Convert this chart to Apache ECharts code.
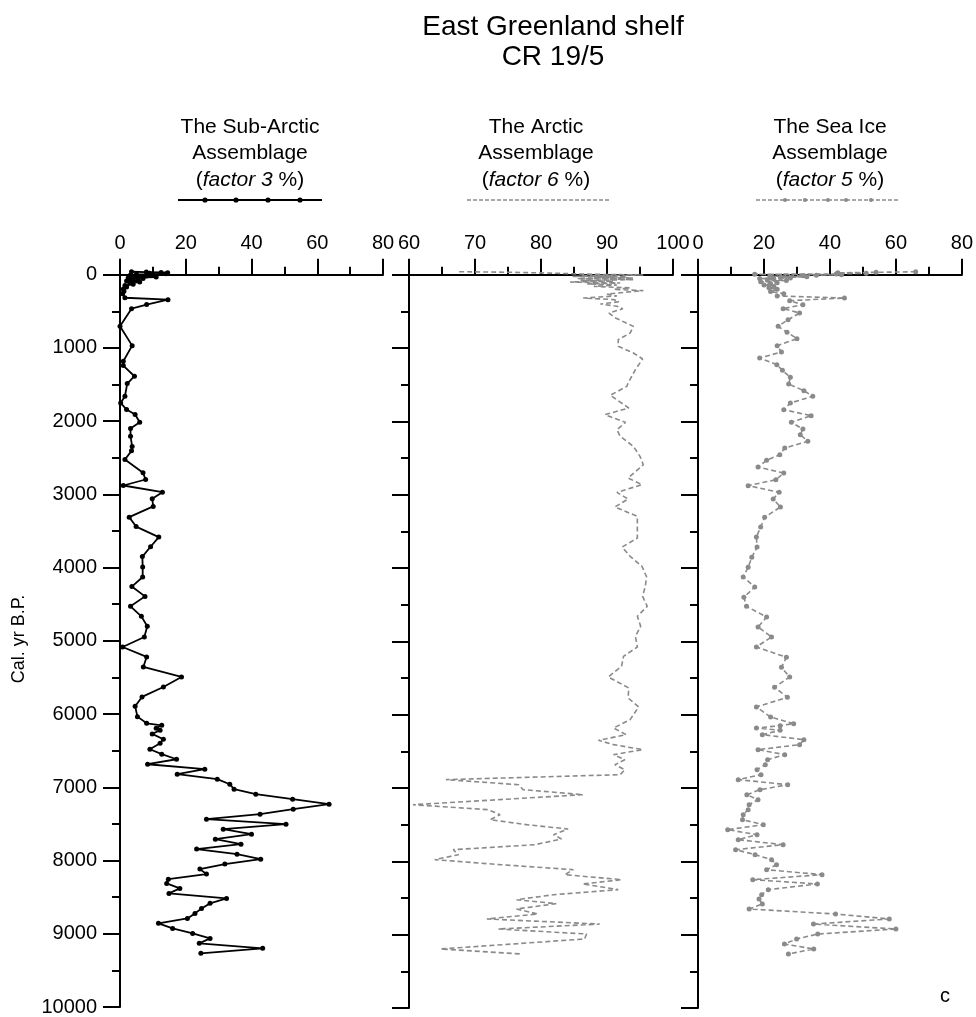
<!DOCTYPE html>
<html lang="en">
<head>
<meta charset="UTF-8">
<title>East Greenland shelf CR 19/5</title>
<script src="https://cdn.jsdelivr.net/npm/echarts@6/dist/echarts.min.js"></script>
<style>
  html, body { margin: 0; padding: 0; background: #fff; }
  #chart { width: 976px; height: 1017px; }
</style>
</head>
<body>
<div id="chart"></div>
<script>
// age axis ticks (cal. yr B.P.)
var ageTicks = [0, 1000, 2000, 3000, 4000, 5000, 6000, 7000, 8000, 9000, 10000];
var ageMinorTicks = [500, 1500, 2500, 3500, 4500, 5500, 6500, 7500, 8500, 9500];

// The Sub-Arctic Assemblage (factor 3 %)
var subArcticAge = [-40, -35, -30, -25, -18, -12, -5, 3, 10, 18, 25, 33, 42, 52, 62, 72, 85, 100, 115, 130,
  148, 168, 195, 225, 260, 315, 341, 409, 464, 705, 969, 1182, 1241, 1387, 1487, 1660, 1751, 1842, 1910, 2015,
  2101, 2206, 2347, 2406, 2524, 2706, 2797, 2879, 2970, 3060, 3165, 3311, 3440, 3583, 3715, 3850, 3993, 4129,
  4259, 4393, 4529, 4666, 4802, 4948, 5084, 5220, 5357, 5493, 5630, 5766, 5894, 6035, 6126, 6153, 6194, 6221,
  6271, 6344, 6398, 6480, 6548, 6617, 6685, 6753, 6821, 6889, 6958, 7026, 7094, 7162, 7231, 7299, 7367, 7435,
  7503, 7572, 7640, 7708, 7776, 7844, 7913, 7981, 8049, 8117, 8185, 8254, 8313, 8381, 8449, 8517, 8585, 8654,
  8722, 8790, 8858, 8927, 8995, 9063, 9131, 9199, 9267];
var subArcticPct = [3.5, 8, 12.5, 14.5, 9, 14, 5, 10, 3, 8, 4, 11, 2.5, 7, 3, 5.5, 2, 6, 3, 4,
  1.5, 2, 1, 1.2, 0.8, 1.5, 14.6, 8.1, 3.5, 0, 3.7, 1, 1, 4.4, 2.2, 1.5, 0.2, 2, 4.6, 6,
  3.2, 3.2, 3.7, 3.5, 1.5, 7, 7.8, 1, 12.9, 9.8, 10.1, 2.8, 4.9, 11.8, 9.3, 6.8, 6.9, 6.9,
  3.6, 7.6, 3.2, 6.5, 8.3, 7.4, 0.8, 8.1, 7.1, 18.7, 13.2, 6.7, 4.6, 5.3, 8.1, 12.7, 11, 12.2,
  9.8, 13.2, 12.2, 9.1, 12.7, 17.2, 8.4, 25.8, 17.4, 29.6, 33.4, 34.7, 41.3, 52.5, 63.6, 52.7, 42.6, 26.3,
  50.5, 31.4, 40, 29, 36.8, 23.3, 35.6, 42.8, 31.9, 24.3, 26.3, 14.7, 14.2, 18.2, 14.9, 32.4, 27.4, 24.8,
  22.8, 20.5, 11.7, 16, 22.1, 27.4, 24.1, 43.4, 24.6];

// The Arctic Assemblage (factor 6 %)
var arcticAge = [-40, -36, -32, -28, -24, -18, -12, -5, 0, 5, 12, 18, 23, 30, 38, 45, 52, 60, 68, 78,
  88, 100, 114, 125, 140, 160, 180, 200, 218, 240, 265, 290, 318, 340, 370, 400, 430, 464, 523, 591,
  705, 796, 886, 977, 1068, 1150, 1295, 1477, 1523, 1645, 1818, 1909, 2014, 2114, 2205, 2341, 2478, 2591,
  2773, 2864, 2969, 3059, 3168, 3296, 3591, 3714, 3841, 3977, 4123, 4250, 4387, 4523, 4659, 4796, 4932,
  5077, 5205, 5341, 5486, 5636, 5773, 5895, 6068, 6182, 6273, 6350, 6409, 6477, 6545, 6614, 6682, 6750,
  6818, 6886, 6955, 7023, 7091, 7228, 7296, 7364, 7432, 7500, 7559, 7637, 7695, 7773, 7841, 7909, 7977,
  8045, 8114, 8182, 8250, 8309, 8386, 8455, 8523, 8577, 8650, 8718, 8786, 8855, 8923, 8991, 9059, 9195, 9264];
var arcticPct = [67.6, 72, 75.8, 78, 80.3, 83, 84.8, 88, 92, 95.5, 86, 91, 84.8, 93, 88, 94, 85.5, 90, 94, 86,
  91, 84.4, 92, 87, 91.5, 88, 93.5, 91, 95.5, 92.7, 90, 91.5, 86.4, 91, 91.8, 89, 91.5, 92.4, 90.3, 91.3,
  94, 93.5, 91.7, 91.7, 94, 95.4, 94.3, 93.2, 93, 90.5, 93.3, 89.7, 92.8, 91.5, 92, 94, 95, 95.5,
  93.2, 95.3, 91.5, 93.2, 91.2, 94.6, 94.6, 92.3, 93.5, 95.3, 96, 95.8, 95.4, 96.1, 94.6, 95.1, 94.3,
  94.6, 92.5, 92.2, 90.2, 93.3, 93.2, 94.8, 93.5, 91, 92.9, 88.7, 91, 95.4, 91, 92.7, 91.2, 92.7,
  92, 65.6, 76.6, 77.3, 86.4, 60.6, 72, 73.8, 72.3, 77.8, 84.1, 81.9, 83.1, 79.1, 66.7, 67.5, 63.9,
  73.8, 84.9, 83.6, 92.2, 86.3, 91.7, 81.9, 76.3, 82.3, 76.3, 79.5, 71.8, 88.9, 73.5, 86.9, 86.6, 64.8, 77.1];

// The Sea Ice Assemblage (factor 5 %)
var seaIceAge = [-40, -32, -25, -18, -10, -5, 0, 8, 15, 23, 30, 38, 45, 52, 60, 68, 80, 95, 110, 125,
  140, 160, 180, 200, 230, 260, 290, 318, 355, 409, 464, 523, 614, 705, 786, 873, 968, 1055, 1136, 1227,
  1305, 1400, 1491, 1582, 1659, 1750, 1841, 1923, 2014, 2105, 2182, 2273, 2364, 2455, 2532, 2623, 2705,
  2796, 2877, 2968, 3059, 3168, 3309, 3441, 3577, 3714, 3855, 3991, 4123, 4259, 4400, 4523, 4668, 4805,
  4941, 5077, 5218, 5355, 5486, 5627, 5764, 5895, 6032, 6123, 6150, 6182, 6214, 6273, 6341, 6409, 6477,
  6545, 6614, 6682, 6750, 6818, 6886, 6955, 7023, 7091, 7159, 7228, 7296, 7364, 7432, 7500, 7568, 7637,
  7705, 7773, 7841, 7909, 7977, 8045, 8114, 8182, 8250, 8309, 8386, 8455, 8514, 8582, 8650, 8718, 8786,
  8855, 8923, 8991, 9059, 9127, 9195, 9264];
var seaIcePct = [66, 54, 42.4, 51, 41.9, 17.2, 43.5, 35.9, 32, 21.8, 33, 25, 28, 18.7, 23, 21, 26.8, 19, 24, 22,
  20, 23, 21.5, 24, 22, 26, 24, 44.4, 27.8, 31.8, 25.8, 30.8, 27.3, 24.3, 27, 30, 24, 25.3, 18.7, 23.9,
  25.6, 28, 27.5, 32.1, 34.8, 28, 26, 34.3, 28.3, 31.8, 31, 33.3, 26.3, 24.8, 20.8, 18.2, 26,
  23.6, 15.2, 24.6, 22.8, 25, 20.2, 19, 17.7, 17.9, 16.3, 15.2, 13.7, 17.2, 13.9, 14.7, 20.8, 18.2,
  22.3, 17.7, 26.8, 25.3, 27.8, 23.2, 27.1, 17.7, 22, 29, 24.9, 17.7, 24.9, 19.5, 32.1, 30.8, 18.2,
  26.3, 21.1, 20.4, 17.9, 19.1, 12.2, 27.2, 18.8, 14.8, 18.2, 15.5, 15.2, 13.7, 13.5, 19.8, 9, 17.9,
  12.2, 25.8, 11.4, 17.3, 22.3, 23.8, 20.8, 37.6, 16.6, 36.2, 21.3, 19.3, 18.5, 19.5, 15.5, 41.7, 58,
  35, 60, 36.3, 29.9, 26.2, 35.1, 27.4];

var font = '"Liberation Sans", Arial, sans-serif';

function pairs(pct, age) {
  return age.map(function (a, i) { return [pct[i], a]; });
}

// panel layout
var panels = [
  { left: 120, width: 263, min: 0, max: 80, major: 20, minor: 10, cx: 250 },
  { left: 409, width: 264, min: 60, max: 100, major: 10, minor: 5, cx: 536 },
  { left: 698, width: 265, min: 0, max: 80, major: 20, minor: 10, cx: 830 }
];
var headings = [
  ['The Sub-Arctic', 'Assemblage', '({i|factor 3} %)'],
  ['The Arctic', 'Assemblage', '({i|factor 6} %)'],
  ['The Sea Ice', 'Assemblage', '({i|factor 5} %)']
];

var grids = [], xAxes = [], yAxes = [], graphics = [];
panels.forEach(function (p, i) {
  grids.push({ left: p.left, width: p.width, top: 271, height: 737 });
  // major x ticks with labels
  xAxes.push({
    type: 'value', gridIndex: i, position: 'top', min: p.min, max: p.max, interval: p.major,
    axisLine: { show: true, lineStyle: { color: '#000', width: 2 } },
    axisTick: { show: true, length: 16, lineStyle: { color: '#000', width: 2 } },
    axisLabel: { margin: 18, fontSize: 20, color: '#000', fontFamily: font },
    splitLine: { show: false }
  });
  // minor x ticks
  xAxes.push({
    type: 'value', gridIndex: i, position: 'top', offset: 0, min: p.min, max: p.max, interval: p.minor,
    axisLine: { show: false },
    axisTick: { show: true, length: 8, lineStyle: { color: '#000', width: 2 } },
    axisLabel: { show: false },
    splitLine: { show: false }
  });
  yAxes.push({
    type: 'value', gridIndex: i, position: 'left', inverse: true, min: -50, max: 10000,
    name: i === 0 ? 'Cal. yr B.P.' : '', nameLocation: 'middle', nameGap: 92,
    nameTextStyle: { fontSize: 18, color: '#000', fontFamily: font },
    axisLine: { show: true, lineStyle: { color: '#000', width: 2 } },
    axisTick: { show: true, length: 17, customValues: ageTicks, lineStyle: { color: '#000', width: 2 } },
    axisLabel: {
      show: i === 0, customValues: ageTicks, margin: 23, fontSize: 20, color: '#000', fontFamily: font,
      formatter: function (v) { return String(v); }
    },
    splitLine: { show: false }
  });
  // minor y ticks
  yAxes.push({
    type: 'value', gridIndex: i, position: 'left', offset: 0, inverse: true, min: -50, max: 10000,
    axisLine: { show: false },
    axisTick: { show: true, length: 8, customValues: ageMinorTicks, lineStyle: { color: '#000', width: 2 } },
    axisLabel: { show: false },
    splitLine: { show: false }
  });
  headings[i].forEach(function (t, k) {
    graphics.push({
      type: 'text', x: p.cx, y: 127 + k * 26.5,
      style: {
        text: t, fill: '#000', font: '21px ' + font, align: 'center', verticalAlign: 'middle',
        rich: { i: { fontStyle: 'italic', fontSize: 21, fontFamily: font } }
      }
    });
  });
});

// legend samples under the headings
graphics.push({ type: 'line', shape: { x1: 178, y1: 200, x2: 322, y2: 200 }, style: { stroke: '#000', lineWidth: 2 } });
[205, 236, 268, 300].forEach(function (x) {
  graphics.push({ type: 'circle', shape: { cx: x, cy: 200, r: 2.6 }, style: { fill: '#000' } });
});
graphics.push({ type: 'line', shape: { x1: 467, y1: 200, x2: 611, y2: 200 }, style: { stroke: '#8a8a8a', lineWidth: 1.5, lineDash: [4, 2] } });
graphics.push({ type: 'line', shape: { x1: 756, y1: 200, x2: 900, y2: 200 }, style: { stroke: '#8a8a8a', lineWidth: 1.5, lineDash: [4, 2] } });
[785, 805, 828, 846, 871].forEach(function (x) {
  graphics.push({ type: 'circle', shape: { cx: x, cy: 200, r: 2 }, style: { fill: '#8a8a8a' } });
});
graphics.push({ type: 'text', x: 945, y: 996, style: { text: 'c', fill: '#000', font: '20px ' + font, align: 'center', verticalAlign: 'middle' } });

var chart = echarts.init(document.getElementById('chart'));
chart.setOption({
  animation: false,
  backgroundColor: '#fff',
  title: {
    text: 'East Greenland shelf\nCR 19/5', left: 548, top: 7, textAlign: 'center',
    textStyle: { fontSize: 28, lineHeight: 30, fontWeight: 'normal', color: '#000', fontFamily: font }
  },
  grid: grids,
  xAxis: xAxes,
  yAxis: yAxes,
  graphic: graphics,
  series: [
    {
      type: 'line', xAxisIndex: 0, yAxisIndex: 0, data: pairs(subArcticPct, subArcticAge),
      symbol: 'circle', symbolSize: 5, lineStyle: { color: '#000', width: 1.8 }, itemStyle: { color: '#000' }
    },
    {
      type: 'line', xAxisIndex: 2, yAxisIndex: 2, data: pairs(arcticPct, arcticAge),
      symbol: 'none', lineStyle: { color: '#8a8a8a', width: 1.6, type: [5, 3] }
    },
    {
      type: 'line', xAxisIndex: 4, yAxisIndex: 4, data: pairs(seaIcePct, seaIceAge),
      symbol: 'circle', symbolSize: 5, lineStyle: { color: '#8a8a8a', width: 1.6, type: [5, 3] }, itemStyle: { color: '#8a8a8a' }
    }
  ]
});
</script>
</body>
</html>
